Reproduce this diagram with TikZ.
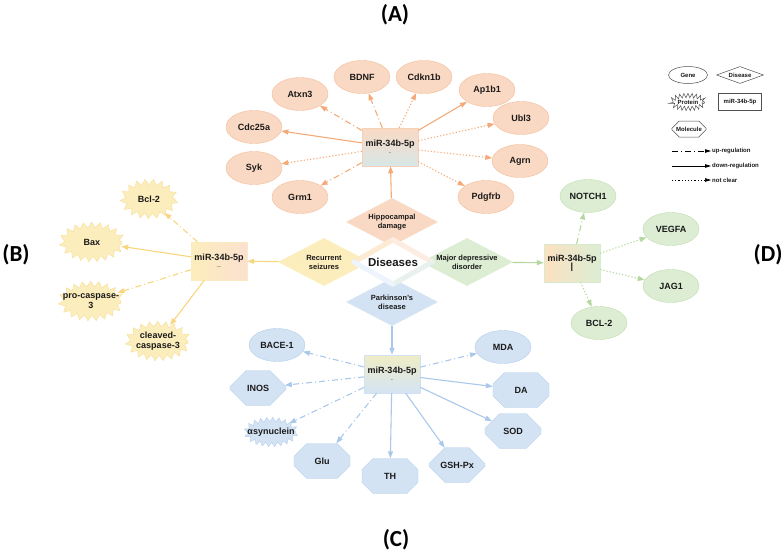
\documentclass[tikz,border=0pt]{standalone}
\usepackage{fontspec}
\setmainfont{Liberation Sans}
\newfontfamily\panelfont{Carlito}
\usetikzlibrary{shapes.geometric,shapes.misc,decorations.pathmorphing,arrows.meta}
\definecolor{orfill}{HTML}{FAD9C4}
\definecolor{ordraw}{HTML}{F2BC98}
\definecolor{orline}{HTML}{F4AA78}
\definecolor{yefill}{HTML}{FCEDBC}
\definecolor{yedraw}{HTML}{F6DE96}
\definecolor{yeline}{HTML}{F8D67E}
\definecolor{blfill}{HTML}{D4E3F4}
\definecolor{bldraw}{HTML}{B4CEEB}
\definecolor{blline}{HTML}{A9C8EA}
\definecolor{grfill}{HTML}{DCEDD3}
\definecolor{grdraw}{HTML}{C0DDAE}
\definecolor{grline}{HTML}{B3D89E}
\definecolor{lgdraw}{HTML}{505050}
\definecolor{inktext}{HTML}{1A1A1A}
\begin{document}
\begin{tikzpicture}[x=1pt,y=-1pt,
  txt/.style={font=\bfseries\fontsize{9}{10}\selectfont,text=inktext},
  gene/.style={ellipse,txt,minimum width=56pt,minimum height=33pt,inner sep=1pt},
  protein/.style={ellipse,txt,align=center,minimum width=60pt,minimum height=34pt,inner xsep=-9pt,inner ysep=-5pt,
    decorate,decoration={zigzag,segment length=8pt,amplitude=2.8pt}},
  molecule/.style={chamfered rectangle,txt,minimum width=56pt,minimum height=35pt,inner sep=1pt,
    chamfered rectangle xsep=13pt,chamfered rectangle ysep=12pt},
  disease/.style={diamond,aspect=1.85,inner sep=0pt,align=center,minimum width=92pt,minimum height=48pt,
    font=\bfseries\fontsize{7.5}{9}\selectfont,text=inktext},
  mirbox/.style={rectangle,txt,align=center,minimum width=56pt,minimum height=38pt,inner sep=1pt},
  band/.style={line width=5pt,line cap=round},
  upreg/.style={-{Triangle[length=7pt,width=5pt]},line width=1.1pt,dash pattern=on 6pt off 3pt on 1pt off 3pt},
  downreg/.style={-{Triangle[length=7pt,width=5pt]},line width=1.1pt},
  unclear/.style={-{Triangle[length=7pt,width=5pt]},line width=1.1pt,dash pattern=on 1.2pt off 2pt},
  panel/.style={font=\panelfont\bfseries\fontsize{23}{25}\selectfont},
  lgbase/.style={fill=white,draw=lgdraw,line width=.5pt,font=\bfseries\fontsize{6}{7}\selectfont,text=inktext},
  lgtext/.style={anchor=west,inner sep=1pt,font=\bfseries\fontsize{6}{7}\selectfont,text=inktext}
]
\useasboundingbox (0,0) rectangle (784,555);

% panel labels
\node[panel] (pA) at (395,15) {(A)};
\node[panel] (pB) at (16,255) {(B)};
\node[panel] (pC) at (396,540) {(C)};
\node[panel] (pD) at (768,255) {(D)};

% diseases in the middle
\node[disease,fill=orfill] (hd) at (392,222) {Hippocampal\\damage};
\node[disease,fill=yefill] (rs) at (324,262) {Recurrent\\seizures};
\node[disease,fill=grfill] (md) at (467,262) {Major depressive\\disorder};
\node[disease,fill=blfill] (pd) at (392,302) {Parkinson's\\disease};
\node[diamond,aspect=1.77,fill=white,inner sep=0pt,minimum width=78pt,minimum height=44pt,
  font=\bfseries\fontsize{11.5}{12}\selectfont,text=inktext] (dis) at (393,262) {Diseases};
\draw[band,color=orfill!60!yefill!70!white] (dis.west) -- (dis.north);
\draw[band,color=orfill!50!white] (dis.north) -- (dis.east);
\draw[band,color=grfill!50!blfill!60!white] (dis.east) -- (dis.south);
\draw[band,color=blfill!40!white] (dis.south) -- (dis.west);

% (A) hippocampal damage
\node[mirbox,draw=ordraw!70!white,top color=orfill,middle color=yefill!70!white,bottom color=blfill!60!grfill] (mA) at (390,147) {miR-34b-5p\\[-3pt]{\tiny .}};
\node[gene,fill=orfill,draw=ordraw] (atxn) at (300,94) {Atxn3};
\node[gene,fill=orfill,draw=ordraw] (bdnf) at (362,77) {BDNF};
\node[gene,fill=orfill,draw=ordraw] (cdkn) at (424,77) {Cdkn1b};
\node[gene,fill=orfill,draw=ordraw] (apb) at (487,90) {Ap1b1};
\node[gene,fill=orfill,draw=ordraw] (ubl) at (521,118) {Ubl3};
\node[gene,fill=orfill,draw=ordraw] (agrn) at (520,161) {Agrn};
\node[gene,fill=orfill,draw=ordraw] (pdg) at (486,197) {Pdgfrb};
\node[gene,fill=orfill,draw=ordraw] (cdc) at (254,127) {Cdc25a};
\node[gene,fill=orfill,draw=ordraw] (syk) at (254,168) {Syk};
\node[gene,fill=orfill,draw=ordraw] (grm) at (300,197) {Grm1};
\draw[downreg,orline] (hd) -- (mA);
\draw[upreg,orline] (mA) -- (atxn);
\draw[upreg,orline] (mA) -- (bdnf);
\draw[unclear,orline] (mA) -- (cdkn);
\draw[downreg,orline] (mA) -- (apb);
\draw[unclear,orline] (mA) -- (ubl);
\draw[unclear,orline] (mA) -- (agrn);
\draw[unclear,orline] (mA) -- (pdg);
\draw[downreg,orline] (mA) -- (cdc);
\draw[unclear,orline] (mA) -- (syk);
\draw[upreg,orline] (mA) -- (grm);

% (B) recurrent seizures
\node[mirbox,draw=yedraw!60!white,left color=yefill,middle color=blfill!70!grfill,right color=orfill!80!white] (mB) at (219,261) {miR-34b-5p\\[-4pt]{\scriptsize \_}};
\node[protein,fill=yefill,draw=yedraw,minimum width=52pt] (bcl) at (149,199) {Bcl-2};
\node[protein,fill=yefill,draw=yedraw] (bax) at (92,242) {Bax};
\node[protein,fill=yefill,draw=yedraw] (proc) at (91,301) {pro-caspase-\\3};
\node[protein,fill=yefill,draw=yedraw] (clc) at (158,341) {cleaved-\\caspase-3};
\draw[downreg,yeline] (rs) -- (mB);
\draw[upreg,yeline] (mB) -- (bcl);
\draw[downreg,yeline] (mB) -- (bax);
\draw[upreg,yeline] (mB) -- (proc);
\draw[downreg,yeline] (mB) -- (clc);

% (C) Parkinson's disease
\node[mirbox,draw=bldraw!60!white,top color=yefill!60!grfill,middle color=orfill!70!white,bottom color=blfill] (mC) at (392,374) {miR-34b-5p\\[-3pt]{\tiny .}};
\node[gene,fill=blfill,draw=bldraw] (bace) at (277,345) {BACE-1};
\node[gene,fill=blfill,draw=bldraw] (mda) at (503,347) {MDA};
\node[molecule,fill=blfill,draw=bldraw] (inos) at (258,388) {INOS};
\node[molecule,fill=blfill,draw=bldraw] (da) at (521,390) {DA};
\node[protein,fill=blfill,draw=bldraw,minimum width=50pt,minimum height=25pt,decoration={zigzag,segment length=6pt,amplitude=2.2pt}] (asyn) at (271,432) {αsynuclein};
\node[molecule,fill=blfill,draw=bldraw] (sod) at (513,431) {SOD};
\node[molecule,fill=blfill,draw=bldraw] (glu) at (322,461) {Glu};
\node[molecule,fill=blfill,draw=bldraw] (th) at (390,476) {TH};
\node[molecule,fill=blfill,draw=bldraw] (gsh) at (457,465) {GSH-Px};
\draw[downreg,blline] (pd) -- (mC);
\draw[upreg,blline] (mC) -- (bace);
\draw[upreg,blline] (mC) -- (mda);
\draw[upreg,blline] (mC) -- (inos);
\draw[downreg,blline] (mC) -- (da);
\draw[upreg,blline] (mC) -- (asyn);
\draw[downreg,blline] (mC) -- (sod);
\draw[upreg,blline] (mC) -- (glu);
\draw[downreg,blline] (mC) -- (th);
\draw[downreg,blline] (mC) -- (gsh);

% (D) major depressive disorder
\node[mirbox,draw=grdraw!60!white,left color=orfill!60!yefill,middle color=blfill,right color=grfill] (mD) at (572,263) {miR-34b-5p\\[-2pt]|};
\node[gene,fill=grfill,draw=grdraw] (notch) at (588,196) {NOTCH1};
\node[gene,fill=grfill,draw=grdraw] (vegf) at (671,229) {VEGFA};
\node[gene,fill=grfill,draw=grdraw] (jag) at (671,286) {JAG1};
\node[gene,fill=grfill,draw=grdraw] (bcltwo) at (599,323) {BCL-2};
\draw[downreg,grline] (md) -- (mD);
\draw[upreg,grline] (mD) -- (notch);
\draw[unclear,grline] (mD) -- (vegf);
\draw[unclear,grline] (mD) -- (jag);
\draw[unclear,grline] (mD) -- (bcltwo);

% legend
\node[gene,lgbase,minimum width=39pt,minimum height=17pt] (lgGene) at (688,75) {Gene};
\node[disease,lgbase,minimum width=47pt,minimum height=17pt] (lgDis) at (740,75) {Disease};
\node[protein,lgbase,minimum width=33pt,minimum height=13pt,inner xsep=-4pt,inner ysep=-2pt,decoration={zigzag,segment length=4pt,amplitude=2.2pt}] (lgProt) at (688,102) {Protein};
\node[mirbox,lgbase,minimum width=43pt,minimum height=17pt] (lgMir) at (740,102) {miR-34b-5p};
\node[molecule,lgbase,minimum width=34pt,minimum height=16pt,chamfered rectangle xsep=4pt,chamfered rectangle ysep=4pt] (lgMol) at (689,129) {Molecule};
\coordinate (lgU) at (672,151);
\coordinate (lgD) at (672,166);
\coordinate (lgN) at (672,180);
\node[lgtext] (lgUt) at (711,151) {up-regulation};
\node[lgtext] (lgDt) at (711,166) {down-regulation};
\node[lgtext] (lgNt) at (711,180) {not clear};
\draw[upreg,black,line width=.8pt,-{Triangle[length=6pt,width=3.5pt]}] (lgU) -- (lgUt);
\draw[downreg,black,line width=.8pt,-{Triangle[length=6pt,width=3.5pt]}] (lgD) -- (lgDt);
\draw[unclear,black,line width=.6pt,-{Triangle[length=6pt,width=3.5pt]}] (lgN) -- (lgNt);
\end{tikzpicture}
\end{document}
